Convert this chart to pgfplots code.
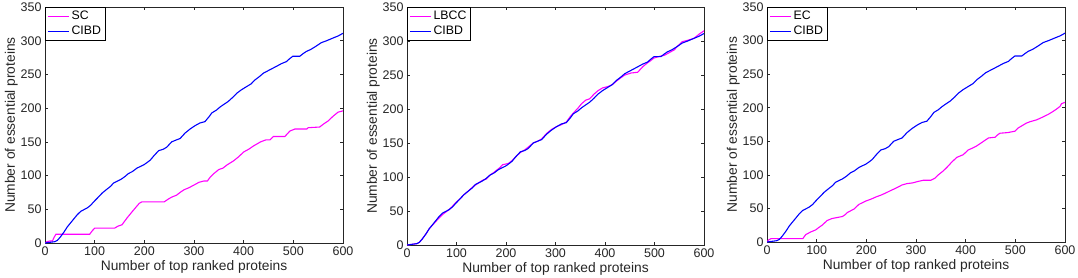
\documentclass[border=0pt]{standalone}
\usepackage{fontspec}
\setmainfont{Liberation Sans}
\usepackage{pgfplots}
\usepackage{pgfplotstable}
\pgfplotsset{compat=1.18}
\definecolor{mgray}{rgb}{0.15,0.15,0.15}
\definecolor{mmag}{rgb}{1,0,1}
\definecolor{mblue}{rgb}{0,0,1}

\pgfplotstableread{
x y
0 0
10 1
20 2
25 4
31 9
38 16
45 24
55 33
65 42
72 47
85 52
92 56
98 61
106 67
115 74
125 80
132 84
138 89
152 94
160 98
168 103
176 106
185 111
199 116
205 119
212 123
220 130
229 137
238 139
245 142
255 150
265 153
272 155
282 163
292 169
302 174
312 178
322 180
330 187
336 193
345 197
353 202
361 206
369 210
378 216
386 222
395 227
406 232
415 236
423 242
432 247
440 252
453 257
466 262
476 266
486 269
492 273
499 277
513 277
520 281
526 284
535 287
546 292
556 297
567 300
580 304
590 307
600 311
}\cibd

\pgfplotstableread{
x y
0 0
4 2
10 3
15 3
18 8
22 13
90 13
95 18
100 22
140 22
147 25
155 27
165 37
175 46
183 53
190 59
195 61
240 61
248 65
255 68
265 71
272 75
280 79
290 82
300 86
310 90
320 92
327 92
333 98
340 103
350 109
358 111
367 116
380 122
390 128
400 135
410 139
420 144
434 150
445 153
453 153
460 158
483 158
493 166
503 169
527 169
530 171
553 172
560 176
570 181
580 188
590 194
600 196
}\sc

\pgfplotstableread{
x y
0 0
10 1
20 2
25 4
31 9
38 16
45 24
55 32
65 40
72 45
85 52
92 57
98 62
106 67
115 74
125 80
132 85
138 88
152 95
160 97
168 103
176 107
188 114
193 118
205 120
212 124
220 130
229 136
238 140
245 144
255 150
265 153
272 156
282 164
292 170
302 174
312 177
322 181
330 189
336 194
345 201
353 208
361 213
369 215
378 222
386 227
395 231
406 233
415 236
423 241
432 246
440 250
453 253
466 254
476 262
486 268
492 271
499 275
513 278
520 279
530 283
540 287
546 292
556 299
567 301
580 304
590 310
600 315
}\lbcc

\pgfplotstableread{
x y
0 0
3 3
8 5
72 5
78 11
88 15
98 18
105 22
111 25
121 32
131 35
145 37
152 38
158 41
162 44
175 49
185 56
199 61
210 64
219 67
230 70
239 73
250 77
259 80
272 85
282 87
293 88
303 90
315 92
330 92
338 95
345 100
355 106
362 111
372 119
382 126
395 130
405 137
414 140
422 143
436 150
446 155
459 156
465 160
469 162
485 163
499 165
506 170
513 173
522 177
529 179
543 182
555 186
566 190
575 194
583 198
590 202
593 206
600 208
}\ec

\pgfplotsset{
  mstyle/.style={
    scale only axis,
    xmin=0, xmax=600, ymin=0, ymax=350,
    xtick={0,100,...,600}, ytick={0,50,...,350},
    tick align=inside, major tick length=3pt,
    axis line style={mgray, line width=0.5pt},
    tick style={mgray, line width=0.5pt},
    ticklabel style={font=\fontsize{12.5}{14}\selectfont, text=mgray},
    /pgf/number format/assume math mode=true,
    xlabel={Number of top ranked proteins},
    ylabel={Number of essential proteins},
    label style={font=\fontsize{13.8}{16}\selectfont, text=mgray},
    ylabel shift=-4pt,
    xlabel shift=-2pt,
    legend cell align=left,
    legend style={at={(0,1)}, anchor=north west, draw=black, line width=0.6pt,
      font=\fontsize{12.3}{14}\selectfont, inner xsep=2pt, inner ysep=2pt, row sep=1pt,
      nodes={inner sep=2pt, text=black}},
    legend image code/.code={\draw[#1, line width=1.3pt] (0pt,0pt) -- (21pt,0pt);},
    every axis plot/.append style={line width=1.1pt, no markers},
  }
}

\begin{document}
\begin{tikzpicture}
\path[use as bounding box] (0,0) rectangle (1078pt,277pt);
\begin{axis}[mstyle, at={(45pt,34pt)}, anchor=south west, width=298pt, height=236pt]
\addplot[draw=mmag] table {\sc};
\addlegendentry{SC}
\addplot[draw=mblue] table {\cibd};
\addlegendentry{CIBD}
\end{axis}
\begin{axis}[mstyle, at={(407pt,32pt)}, anchor=south west, width=297pt, height=238pt]
\addplot[draw=mmag] table {\lbcc};
\addlegendentry{LBCC}
\addplot[draw=mblue] table {\cibd};
\addlegendentry{CIBD}
\end{axis}
\begin{axis}[mstyle, at={(767pt,35pt)}, anchor=south west, width=298pt, height=235pt]
\addplot[draw=mmag] table {\ec};
\addlegendentry{EC}
\addplot[draw=mblue] table {\cibd};
\addlegendentry{CIBD}
\end{axis}
\end{tikzpicture}
\end{document}
